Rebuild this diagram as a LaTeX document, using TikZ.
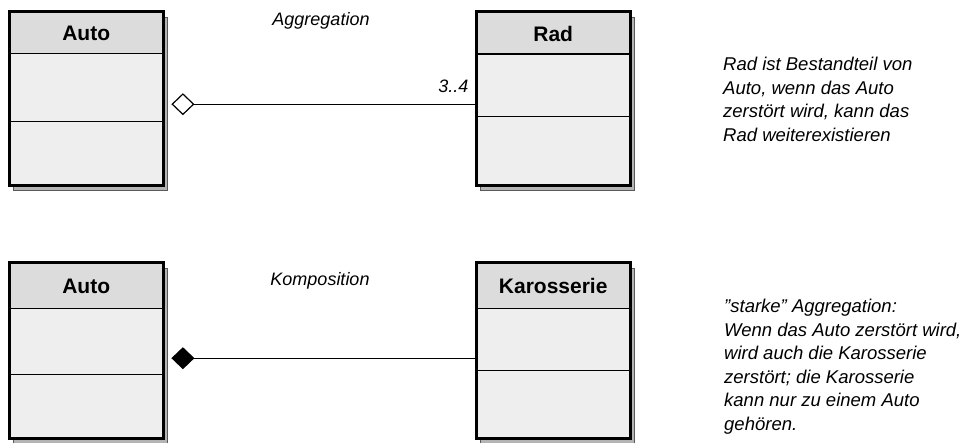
\documentclass[tikz,border=0pt]{standalone}
\usepackage{fontspec}
\setmainfont{Liberation Sans}
\usetikzlibrary{positioning,shadows,arrows.meta}
\definecolor{headgray}{HTML}{DCDCDC}
\definecolor{bodygray}{HTML}{EEEEEE}
\definecolor{shadowgray}{HTML}{B4B4B4}
\definecolor{shadowline}{HTML}{5A5A5A}

\begin{document}
\begin{tikzpicture}[x=1pt,y=-1pt,
    classbox/.style={minimum width=154pt, minimum height=#1, inner sep=0pt,
        anchor=north west, fill=bodygray,
        drop shadow={shadow xshift=4pt, shadow yshift=-5pt, fill=shadowgray,
            draw=shadowline, line width=1pt, opacity=1}},
    headbox/.style={minimum width=154pt, minimum height=#1, inner sep=0pt,
        fill=headgray, draw=black, line width=1.5pt,
        font=\fontsize{21}{21}\bfseries},
    outline/.style={draw=black, line width=3pt},
    divider/.style={draw=black, line width=1.5pt},
    assoc/.style={line width=1.3pt},
    rolelabel/.style={font=\fontsize{18}{18}\itshape, anchor=base, inner sep=0pt},
    note/.style={font=\fontsize{18.5}{23.5}\itshape, align=left,
        anchor=north west, inner sep=0pt}]
    \useasboundingbox (0,0) rectangle (970,443);

    % Aggregation
    \node[classbox=173pt] (autoA) at (9,12) {};
    \node[headbox=41pt, below=0pt of autoA.north] (autoAhead) {Auto};
    \draw[divider] ([yshift=-67pt]autoAhead.south west) -- ([yshift=-67pt]autoAhead.south east);
    \draw[outline] (autoA.north west) rectangle (autoA.south east);

    \node[classbox=173pt] (radA) at (476,12) {};
    \node[headbox=41.5pt, below=0pt of radA.north] (radAhead) {Rad};
    \draw[divider] ([yshift=-61.5pt]radAhead.south west) -- ([yshift=-61.5pt]radAhead.south east);
    \draw[outline] (radA.north west) rectangle (radA.south east);

    \draw[assoc, {Diamond[open, fill=white, length=23pt, width=22pt, line width=1.2pt]}-]
        ([xshift=8pt, yshift=-5.5pt]autoA.east) -- ([yshift=-5.5pt]radA.west)
        node[pos=1, rolelabel, anchor=base east, xshift=-7pt, yshift=12pt] (multA) {3..4};
    \node[rolelabel] (aggA) at (321,26) {Aggregation};

    \node[note] (noteA) at (723,57) {Rad ist Bestandteil von\\Auto, wenn das Auto\\zerstört wird, kann das\\Rad weiterexistieren};

    % Komposition
    \node[classbox=175pt] (autoB) at (9,263) {};
    \node[headbox=45pt, below=0pt of autoB.north] (autoBhead) {Auto};
    \draw[divider] ([yshift=-65pt]autoBhead.south west) -- ([yshift=-65pt]autoBhead.south east);
    \draw[outline] (autoB.north west) rectangle (autoB.south east);

    \node[classbox=175pt] (karB) at (476,263) {};
    \node[headbox=45pt, below=0pt of karB.north] (karBhead) {Karosserie};
    \draw[divider] ([yshift=-61pt]karBhead.south west) -- ([yshift=-61pt]karBhead.south east);
    \draw[outline] (karB.north west) rectangle (karB.south east);

    \draw[assoc, {Diamond[length=23pt, width=22pt]}-]
        ([xshift=8pt, yshift=-7.5pt]autoB.east) -- ([yshift=-7.5pt]karB.west);
    \node[rolelabel] (kompB) at (320,286) {Komposition};

    \node[note] (noteB) at (724,299) {\symbol{34}starke\symbol{34} Aggregation:\\Wenn das Auto zerstört wird,\\wird auch die Karosserie\\zerstört; die Karosserie\\kann nur zu einem Auto\\gehören.};
\end{tikzpicture}
\end{document}
